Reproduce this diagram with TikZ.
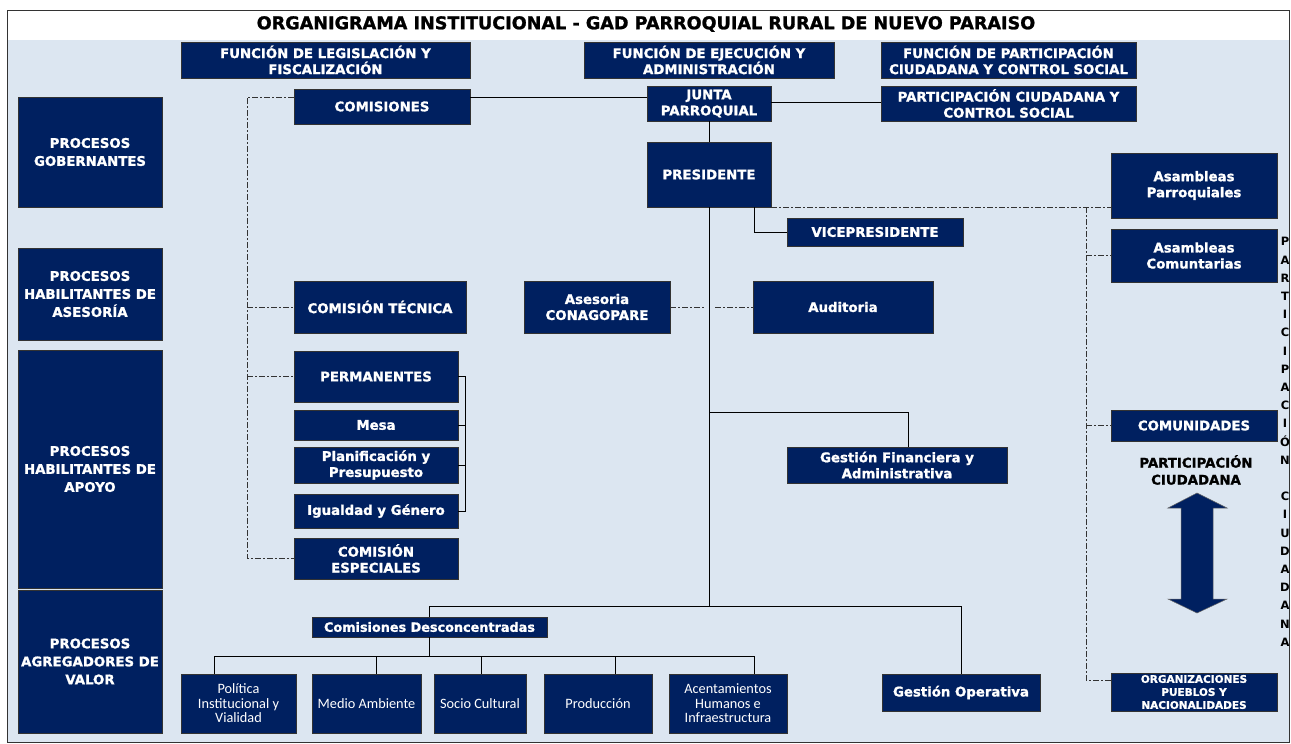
\documentclass[tikz,border=0pt]{standalone}
\usepackage{fontspec}
\setmainfont{DejaVu Sans}[BoldFont={DejaVu Sans Bold}, BoldFeatures={FakeBold=1.3}]
\newfontfamily\carl{Carlito}
\newfontfamily\blk{DejaVu Sans Bold}
\usetikzlibrary{calc}
\definecolor{navy}{HTML}{002060}
\definecolor{bgblue}{HTML}{DCE6F1}
\newcommand\fA{\fontsize{13.3}{16}\selectfont\bfseries}
\newcommand\fL{\fontsize{13.3}{18}\selectfont\bfseries}
\newcommand\fC{\fontsize{10.5}{13}\selectfont\bfseries}
\newcommand\fD{\fontsize{12.8}{13}\selectfont\bfseries}
\newcommand\fS{\fontsize{14.3}{14.5}\selectfont\carl}
\newcommand\fP{\fontsize{13.3}{17}\selectfont\bfseries}
\newcommand\fV{\fontsize{11.5}{18.2}\selectfont\blk}
\newcommand\mkbox[7][]{\node[box,#1,minimum width={(#5-#3)*1pt},minimum height={(#6-#4)*1pt}] (#2) at ({(#3+#5)/2},{(#4+#6)/2}) {#7};}
\begin{document}
\begin{tikzpicture}[x=1pt,y=-1pt,
  box/.style={draw=black!80, line width=0.7pt, fill=navy, text=white, font=\fA, align=center, inner sep=0pt},
  lbox/.style={font=\fL},
  sbox/.style={font=\fS},
  dline/.style={line width=0.8pt, draw=black!80, dash pattern=on 6pt off 2pt on 2pt off 2pt},
  sline/.style={line width=1pt, draw=black}]
\useasboundingbox (0,0) rectangle (1291,744);
\fill[white] (0,0) rectangle (1291,744);
\fill[bgblue] (7,40) rectangle (1289,742);
\draw[black!80, line width=1pt] (7,10) rectangle (1289,742);

\node[font=\fontsize{17.6}{20}\selectfont\bfseries, text=black] (title) at (646,24) {ORGANIGRAMA INSTITUCIONAL - GAD PARROQUIAL RURAL DE NUEVO PARAISO};

% top row
\mkbox{leg}{181}{42}{470}{78}{FUNCIÓN DE LEGISLACIÓN Y\\FISCALIZACIÓN}
\mkbox{ejec}{584}{42}{834}{78}{FUNCIÓN DE EJECUCIÓN Y\\ADMINISTRACIÓN}
\mkbox{fpart}{881}{42}{1136}{78}{FUNCIÓN DE PARTICIPACIÓN\\CIUDADANA Y CONTROL SOCIAL}
% second row
\mkbox{comisiones}{294}{89}{470}{124}{COMISIONES}
\mkbox{junta}{647}{86}{771}{121}{JUNTA\\PARROQUIAL}
\mkbox{pcs}{881}{86}{1136}{121}{PARTICIPACIÓN CIUDADANA Y\\CONTROL SOCIAL}
% left column
\mkbox[lbox]{pg}{18}{97}{162}{207}{PROCESOS\\GOBERNANTES}
\mkbox[lbox]{pha}{18}{248}{162}{340}{PROCESOS\\HABILITANTES DE\\ASESORÍA}
\mkbox[lbox]{phap}{18}{350}{162}{588}{PROCESOS\\HABILITANTES DE\\APOYO}
\mkbox[lbox]{pav}{18}{590}{162}{733}{PROCESOS\\AGREGADORES DE\\VALOR}
% centre
\mkbox{presidente}{647}{142}{771}{207}{PRESIDENTE}
\mkbox{vice}{787}{218}{963}{246}{VICEPRESIDENTE}
\mkbox{tecnica}{294}{281}{466}{333}{COMISIÓN TÉCNICA}
\mkbox{asesoria}{524}{281}{670}{333}{Asesoria\\CONAGOPARE}
\mkbox{auditoria}{753}{281}{933}{333}{Auditoria}
\mkbox{perm}{294}{351}{458}{402}{PERMANENTES}
\mkbox{mesa}{294}{410}{458}{440}{Mesa}
\mkbox{plan}{294}{447}{458}{483}{Planificación y\\Presupuesto}
\mkbox{igual}{294}{494}{458}{528}{Igualdad y Género}
\mkbox{espec}{294}{538}{458}{579}{COMISIÓN\\ESPECIALES}
\mkbox{gfin}{787}{447}{1007}{483}{Gestión Financiera y\\Administrativa}
% right
\mkbox{asparr}{1111}{153}{1277}{218}{Asambleas\\Parroquiales}
\mkbox{ascom}{1111}{229}{1277}{282}{Asambleas\\Comuntarias}
\mkbox{comun}{1111}{410}{1277}{441}{COMUNIDADES}
\mkbox[font=\fC]{org}{1111}{673}{1277}{711}{ORGANIZACIONES\\PUEBLOS Y\\NACIONALIDADES}
% bottom
\mkbox[font=\fD]{comdes}{312}{617}{547}{637}{Comisiones Desconcentradas}
\mkbox[sbox]{pol}{181}{674}{296}{733}{Política\\Institucional y\\Vialidad}
\mkbox[sbox]{medio}{312}{674}{421}{733}{Medio Ambiente}
\mkbox[sbox]{socio}{434}{674}{526}{733}{Socio Cultural}
\mkbox[sbox]{prod}{544}{674}{652}{733}{Producción}
\mkbox[sbox]{acen}{669}{674}{787}{733}{Acentamientos\\Humanos e\\Infraestructura}
\mkbox{gop}{882}{674}{1040}{711}{Gestión Operativa}

% labels
\node[font=\fP, text=black, align=center] (pclabel) at (1196,470) {PARTICIPACIÓN\\CIUDADANA};
\node[font=\fV, text=black, align=center, inner sep=0pt] (vtext) at (1285,442) {P\\A\\R\\T\\I\\C\\I\\P\\A\\C\\I\\Ó\\N\\[18.2pt]C\\I\\U\\D\\A\\D\\A\\N\\A};

% double arrow
\fill[navy, draw=black!60, line width=0.5pt] (1197,493) -- (1227,508) -- (1213,508) -- (1213,599) -- (1227,599) -- (1197,613) -- (1168,599) -- (1181,599) -- (1181,508) -- (1168,508) -- cycle;

% solid connectors
\draw[sline] (comisiones.east |- 0,97) -- (junta.west |- 0,97);
\draw[sline] (junta.east |- 0,102) -- (pcs.west |- 0,102);
\draw[sline] (junta.south) -- (presidente.north);
\draw[sline] (presidente.south) -- (presidente.south |- 0,606);
\draw[sline] (presidente.south -| 754,0) |- (vice.west);
\draw[sline] (presidente.south |- 0,412) -| (gfin.north -| 908,0);
\draw[sline] (comdes.north) -- (comdes.north |- 0,606) -| (gop.north);
\draw[sline] (comdes.south) -- (comdes.south |- 0,656);
\draw[sline] (pol.north -| 214,0) -- (214,656) -- (754,656) -- (acen.north -| 754,0);
\draw[sline] (medio.north -| 376,0) -- (376,656);
\draw[sline] (socio.north -| 481,0) -- (481,656);
\draw[sline] (prod.north -| 615,0) -- (615,656);
% bracket of permanentes
\draw[sline] (perm.east) -| (465,0 |- igual.east) -- (igual.east);
\draw[sline] (mesa.east) -- (465,0 |- mesa.east);
\draw[sline] (plan.east) -- (465,0 |- plan.east);

% dashed connectors
\draw[dline] (comisiones.west |- 0,97) -| (espec.west -| 247,0) -- (espec.west);
\draw[dline] (tecnica.west -| 247,0) -- (tecnica.west);
\draw[dline] (perm.west -| 247,0) -- (perm.west);
\draw[dline] (asesoria.east) -- (asesoria.east -| 704,0);
\draw[dline] (auditoria.west -| 715,0) -- (auditoria.west);
\draw[dline] (presidente.south east) -- (asparr.west |- presidente.south east);
\draw[dline] (presidente.south east -| 1086,0) |- (org.west |- 0,680);
\draw[dline] (ascom.west -| 1086,0) -- (ascom.west);
\draw[dline] (comun.west -| 1086,0) -- (comun.west);
\end{tikzpicture}
\end{document}
